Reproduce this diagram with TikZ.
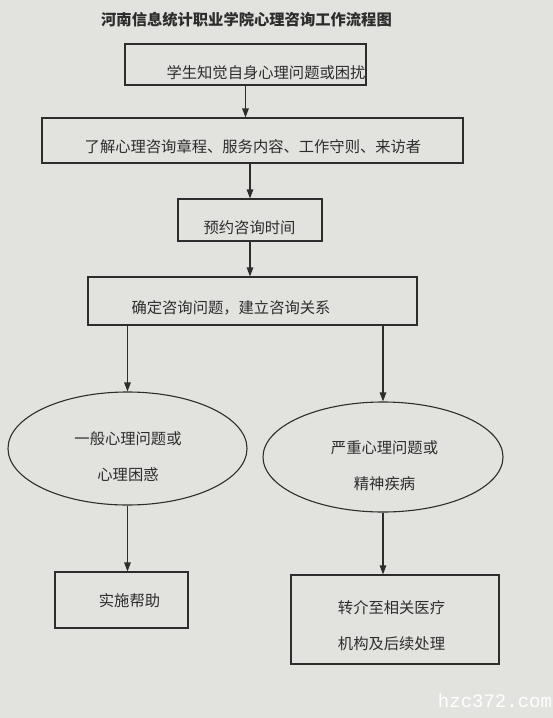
\documentclass[tikz,border=0pt]{standalone}
\usepackage{fontspec}
\newfontfamily\cjk{Noto Sans CJK SC}
\newfontfamily\wmfont{Liberation Mono}
\usetikzlibrary{shapes.geometric,arrows.meta}
\definecolor{bg}{RGB}{226,226,223}
\definecolor{ink}{RGB}{45,45,45}
\begin{document}
\begin{tikzpicture}[x=1pt,y=-1pt,
  box/.style={draw=ink,line width=1.1pt,rectangle,inner sep=0pt},
  oval/.style={draw=ink,line width=1.1pt,ellipse,inner sep=0pt},
  txt/.style={font={\cjk\fontsize{15.3}{36}\selectfont},text=ink,inner sep=0pt,align=center},
  ttl/.style={font={\cjk\bfseries\fontsize{15.3}{18}\selectfont},text=ink,inner sep=0pt},
  arr/.style={draw=ink,line width=1.1pt,-{Triangle[length=9pt,width=6.5pt]}}]
\fill[bg] (0,0) rectangle (553,718);
\useasboundingbox (0,0) rectangle (553,718);

\node[ttl] (title) at (246.5,20) {河南信息统计职业学院心理咨询工作流程图};

\node[box,minimum width=241pt,minimum height=41pt] (b1) at (245.5,64.5) {};
\node[txt] (t1) at (266,72.5) {学生知觉自身心理问题或困扰};

\node[box,minimum width=421pt,minimum height=45pt] (b2) at (252.5,140.5) {};
\node[txt] (t2) at (253,146.5) {了解心理咨询章程、服务内容、工作守则、来访者};

\node[box,minimum width=144pt,minimum height=42pt] (b3) at (250,220) {};
\node[txt] (t3) at (249.5,228) {预约咨询时间};

\node[box,minimum width=329pt,minimum height=48pt] (b4) at (252.5,301) {};
\node[txt] (t4) at (231,307.5) {确定咨询问题，建立咨询关系};

\node[oval,minimum width=239pt,minimum height=113pt] (e1) at (127.5,448.5) {};
\node[txt] (te1) at (128,456.5) {一般心理问题或\\心理困惑};

\node[oval,minimum width=240pt,minimum height=110pt] (e2) at (383,457) {};
\node[txt] (te2) at (384.5,466) {严重心理问题或\\精神疾病};

\node[box,minimum width=133pt,minimum height=56pt] (b5) at (121.5,600) {};
\node[txt] (t5) at (129.5,601) {实施帮助};

\node[box,minimum width=208pt,minimum height=89pt] (b6) at (395,619.5) {};
\node[txt] (t6) at (391.5,625.5) {转介至相关医疗\\机构及后续处理};

\draw[arr] (b1.south) -- (b1.south |- b2.north);
\draw[arr] (b3.north |- b2.south) -- (b3.north);
\draw[arr] (b3.south) -- (b3.south |- b4.north);
\draw[arr] (e1.north |- b4.south) -- (e1.north);
\draw[arr] (e2.north |- b4.south) -- (e2.north);
\draw[arr] (e1.south) -- (e1.south |- b5.north);
\draw[arr] (e2.south) -- (e2.south |- b6.north);

\node[font={\wmfont\fontsize{19}{20}\selectfont},text=white,inner sep=0pt] (wm) at (495,701) {hzc372.com};
\end{tikzpicture}
\end{document}
